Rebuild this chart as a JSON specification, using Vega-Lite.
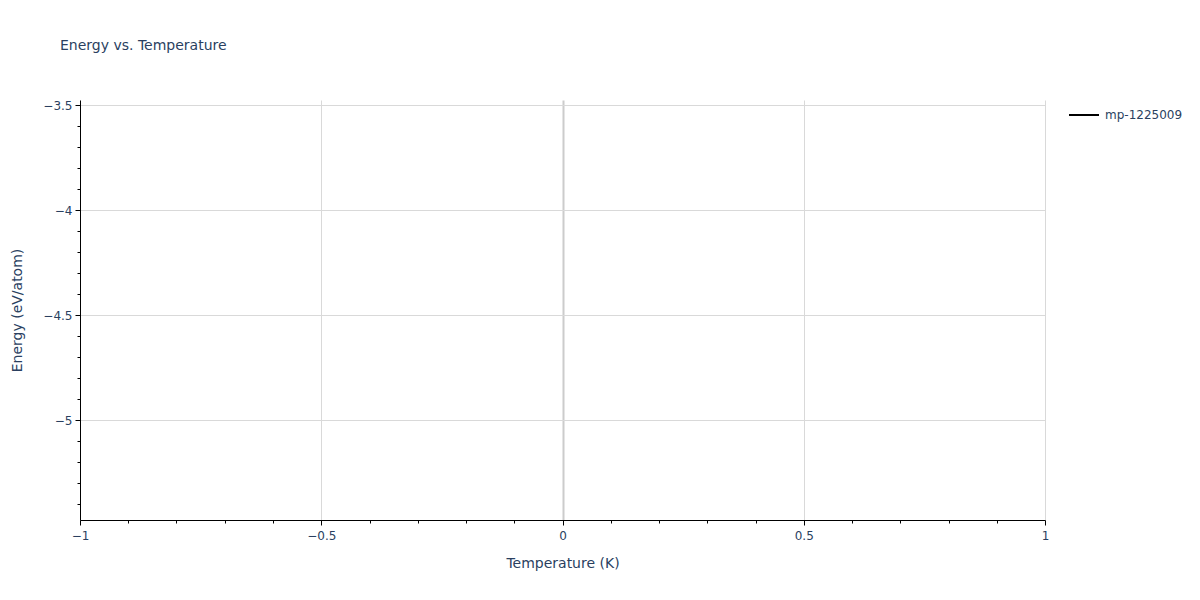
{
  "$schema": "https://vega.github.io/schema/vega-lite/v6.json",
  "autosize": {"type": "none"},
  "padding": {"left": 80, "top": 100, "right": 155, "bottom": 80},
  "width": 965,
  "height": 420,
  "background": "white",
  "title": {
    "text": "Energy vs. Temperature",
    "anchor": "start",
    "frame": "group",
    "dx": -20,
    "offset": 46,
    "font": "DejaVu Sans",
    "fontSize": 14,
    "fontWeight": "normal",
    "color": "#2a3f5f"
  },
  "data": {
    "values": [
      {"temperature": 0, "energy": -4.476, "material_id": "mp-1225009"}
    ]
  },
  "layer": [
    {
      "mark": {"type": "line", "strokeWidth": 2},
      "encoding": {
        "x": {
          "field": "temperature",
          "type": "quantitative",
          "title": "Temperature (K)",
          "scale": {"domain": [-1, 1], "nice": false, "zero": false},
          "axis": {
            "values": [-1, -0.5, 0, 0.5, 1],
            "format": ".1~f",
            "grid": true,
            "labelFlush": false,
            "labelPadding": 5,
            "gridColor": {"condition": {"test": "datum.value === 0", "value": "#cccccc"}, "value": "#d9d9d9"},
            "gridWidth": {"condition": {"test": "datum.value === 0", "value": 2}, "value": 1},
            "titlePadding": 15
          }
        },
        "y": {
          "field": "energy",
          "type": "quantitative",
          "title": "Energy (eV/atom)",
          "scale": {"domain": [-5.476, -3.476], "nice": false, "zero": false},
          "axis": {
            "values": [-5, -4.5, -4, -3.5],
            "format": ".1~f",
            "grid": true,
            "gridColor": "#d9d9d9",
            "titlePadding": 18
          }
        },
        "color": {
          "field": "material_id",
          "type": "nominal",
          "scale": {"range": ["#000000"]},
          "legend": {
            "title": null,
            "orient": "none",
            "legendX": 988,
            "legendY": -1,
            "symbolType": "stroke",
            "symbolSize": 900,
            "symbolStrokeWidth": 2,
            "symbolStrokeColor": "#000000",
            "labelFont": "DejaVu Sans",
            "labelFontSize": 12,
            "labelColor": "#2a3f5f",
            "labelOffset": 5
          }
        }
      }
    },
    {
      "mark": {"type": "point", "opacity": 0},
      "encoding": {
        "x": {
          "field": "temperature",
          "type": "quantitative",
          "axis": {
            "orient": "bottom",
            "values": [-0.9, -0.8, -0.7, -0.6, -0.4, -0.3, -0.2, -0.1, 0.1, 0.2, 0.3, 0.4, 0.6, 0.7, 0.8, 0.9],
            "labels": false,
            "domain": false,
            "grid": false,
            "title": null,
            "tickSize": 3
          }
        },
        "y": {
          "field": "energy",
          "type": "quantitative",
          "axis": {
            "orient": "left",
            "values": [-5.4, -5.3, -5.2, -5.1, -4.9, -4.8, -4.7, -4.6, -4.4, -4.3, -4.2, -4.1, -3.9, -3.8, -3.7, -3.6],
            "labels": false,
            "domain": false,
            "grid": false,
            "title": null,
            "tickSize": 3
          }
        }
      }
    }
  ],
  "resolve": {"axis": {"x": "independent", "y": "independent"}},
  "config": {
    "view": {"stroke": null},
    "axis": {
      "domainColor": "#000000",
      "domainWidth": 1,
      "tickColor": "#000000",
      "tickSize": 5,
      "labelFont": "DejaVu Sans",
      "labelFontSize": 12,
      "labelColor": "#2a3f5f",
      "labelPadding": 3,
      "titleFont": "DejaVu Sans",
      "titleFontSize": 14,
      "titleFontWeight": "normal",
      "titleColor": "#2a3f5f"
    }
  }
}
